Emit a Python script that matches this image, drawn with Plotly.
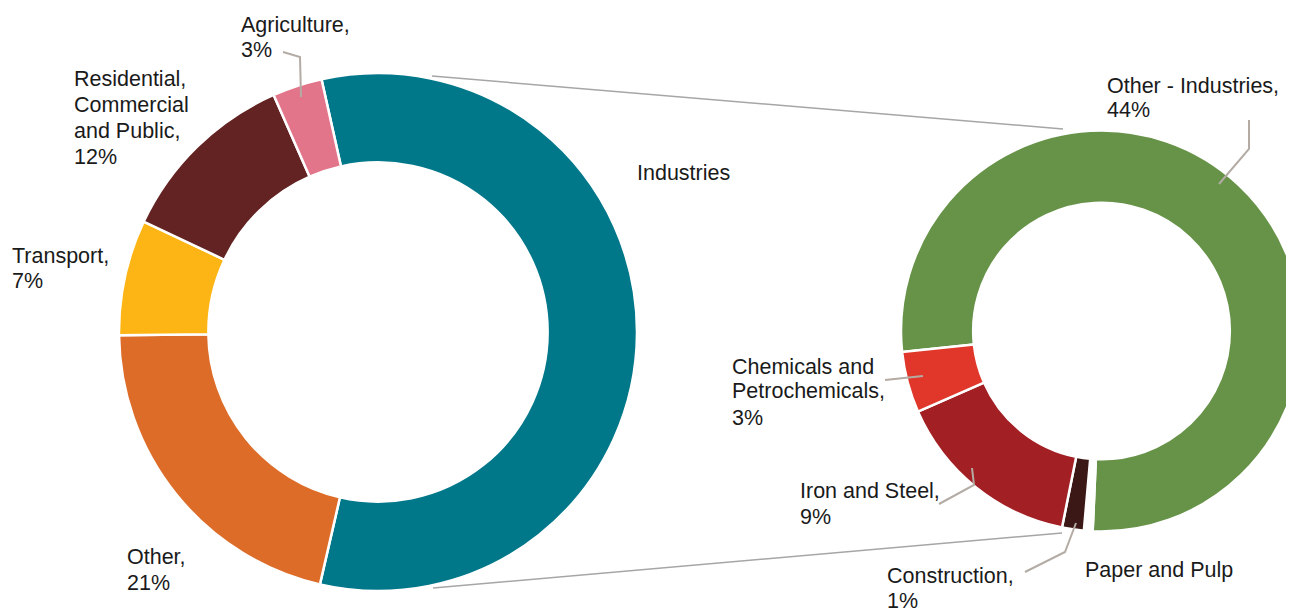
import plotly.graph_objects as go

# ---------------- data ----------------
main_labels = ["Industries", "Other", "Transport", "Residential, Commercial and Public", "Agriculture"]
main_values = [57.1, 21.2, 7.2, 11.4, 3.1]
main_colors = ["#00788A", "#DC6C28", "#FDB515", "#622322", "#E2758A"]

ind_labels = ["Other - Industries", "Paper and Pulp", "Construction", "Iron and Steel", "Chemicals and Petrochemicals"]
ind_values = [44.1, 0.4, 1.0, 8.7, 2.8]
ind_colors = ["#679348", "#FFFFFF", "#3B1715", "#A21F24", "#E0372A"]

label_lines = {
    "Agriculture": ["Agriculture,", "3%"],
    "Residential": ["Residential,", "Commercial", "and Public,", "12%"],
    "Transport": ["Transport,", "7%"],
    "Other": ["Other,", "21%"],
    "Industries": ["Industries"],
    "OtherInd": ["Other - Industries,", "44%"],
    "Chemicals": ["Chemicals and", "Petrochemicals,", "3%"],
    "Iron": ["Iron and Steel,", "9%"],
    "Construction": ["Construction,", "1%"],
    "Paper": ["Paper and Pulp"],
}

# ---------------- layout helpers ----------------
W, H = 1294, 609
OFF = 8  # page body margin


def px(x):
    return (x - OFF) / W


def py(y):
    return 1 - (y - OFF) / H


FONT = "Liberation Sans, Arial, Helvetica, sans-serif"
TXT = "#1A1A1A"
LEADER = "#B3ABA4"
CONNECT = "#A6A6A6"
FS = 21.5

fig = go.Figure()

# left doughnut: centre (378, 332), radius 259 (page pixels)
lc, lr = (378, 332), 259
fig.add_trace(go.Pie(
    labels=main_labels, values=main_values, sort=False, direction="clockwise",
    rotation=-12.6, hole=0.655,
    marker=dict(colors=main_colors, line=dict(color="white", width=2.5)),
    textinfo="none", hoverinfo="label+percent", showlegend=False,
    domain=dict(x=[px(lc[0] - lr), px(lc[0] + lr)], y=[py(lc[1] + lr), py(lc[1] - lr)]),
))

# right doughnut: centre (1102, 331), radius ~201 (clipped at right edge)
rc, rr = (1102, 331), 201
fig.add_trace(go.Pie(
    labels=ind_labels, values=ind_values, sort=False, direction="clockwise",
    rotation=264, hole=0.64,
    marker=dict(colors=ind_colors, line=dict(color="white", width=2.5)),
    textinfo="none", hoverinfo="label+value", showlegend=False,
    domain=dict(x=[px(rc[0] - rr), 1.0], y=[py(rc[1] + rr), py(rc[1] - rr)]),
))

# label positions (page pixels: left x, centre y of each line)
label_pos = {
    "Agriculture": (239, [24.5, 50.5]),
    "Residential": (72, [79, 105, 130.5, 156.5]),
    "Transport": (10, [256, 281]),
    "Other": (125, [557, 583]),
    "Industries": (634.5, [173]),
    "OtherInd": (1105, [86, 110]),
    "Chemicals": (730, [367, 391, 417.5]),
    "Iron": (798, [491, 517]),
    "Construction": (885, [576, 601]),
    "Paper": (1083, [569.5]),
}
annotations = []
for k, (x, ys) in label_pos.items():
    for line, y in zip(label_lines[k], ys):
        annotations.append(dict(
            x=px(x), y=py(y), xref="paper", yref="paper", xanchor="left", yanchor="middle",
            text=line, showarrow=False, align="left",
            font=dict(family=FONT, size=FS, color=TXT),
        ))

# leader lines (page pixel points)
leaders = [
    [(283, 52), (300, 57), (301, 97)],
    [(1249, 120), (1249, 149), (1219, 184)],
    [(885, 380), (923, 376)],
    [(939, 504), (974, 485), (972, 468)],
    [(1025, 572), (1065, 552), (1076, 523)],
]
shapes = []
for pts in leaders:
    path = "M " + " L ".join(f"{px(x)},{py(y)}" for x, y in pts)
    shapes.append(dict(type="path", path=path, xref="paper", yref="paper",
                       line=dict(color=LEADER, width=2)))

# connector lines between the two doughnuts
connectors = [((432, 76), (1063, 129)), ((433, 588), (1062, 533))]
for (x0, y0), (x1, y1) in connectors:
    shapes.append(dict(type="line", x0=px(x0), y0=py(y0), x1=px(x1), y1=py(y1),
                       xref="paper", yref="paper", line=dict(color=CONNECT, width=1.5),
                       layer="below"))

fig.update_layout(
    width=W, height=H,
    margin=dict(l=0, r=0, t=0, b=0),
    paper_bgcolor="white", plot_bgcolor="white",
    font=dict(family=FONT, color=TXT),
    annotations=annotations, shapes=shapes,
    showlegend=False,
)

fig.write_html("out.html")
